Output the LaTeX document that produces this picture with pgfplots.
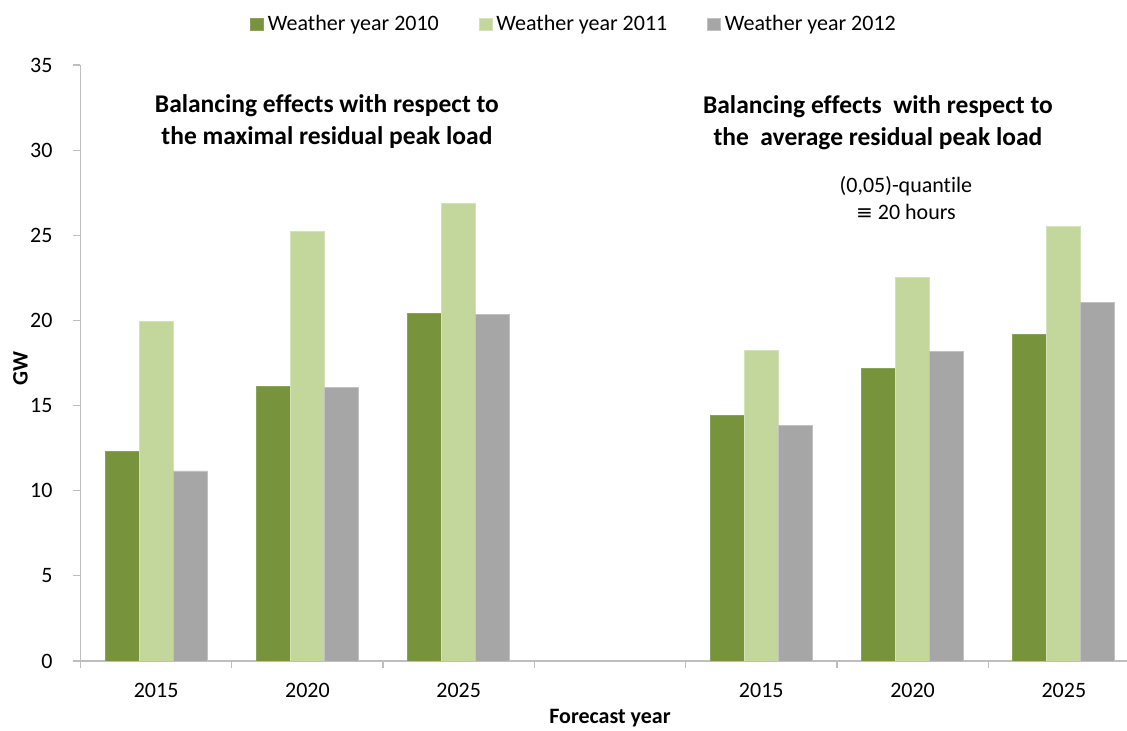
\documentclass[border=0pt]{standalone}
\usepackage{pgfplots}
\pgfplotsset{compat=1.18}
\usepackage{fontspec}
\setmainfont{Carlito}[Ligatures={TeX,NoCommon}]
\newfontfamily\symfont{DejaVu Sans}

\definecolor{darkgreen}{HTML}{77933C}
\definecolor{lightgreen}{HTML}{C3D69B}
\definecolor{midgray}{HTML}{A6A6A6}
\definecolor{axisgray}{HTML}{BEBEBE}

% Categories: 0-2 = maximal residual peak load, 3 = spacer, 4-6 = average residual peak load
\pgfplotstableread{
x   y
0   12.33
1   16.11
2   20.41
4   14.43
5   17.19
6   19.20
}\wyA
\pgfplotstableread{
x   y
0   19.93
1   25.21
2   26.87
4   18.22
5   22.51
6   25.50
}\wyB
\pgfplotstableread{
x   y
0   11.16
1   16.05
2   20.37
4   13.82
5   18.16
6   21.04
}\wyC

\begin{document}
\begin{tikzpicture}
\begin{axis}[
  name=ax,
  width=529.5pt, height=298pt, scale only axis,
  xmin=-0.5, xmax=6.5, ymin=0, ymax=35,
  enlargelimits=false,
  ybar=0pt, bar width=17pt,
  axis x line*=bottom, axis y line*=left,
  axis line style={axisgray, line width=0.6pt},
  tick style={axisgray, line width=0.6pt},
  tick align=outside,
  major tick length=3.5pt,
  xtick={-0.5,0.5,...,6.5},
  xticklabels={},
  extra x ticks={0,1,2,4,5,6},
  extra x tick labels={2015,2020,2025,2015,2020,2025},
  extra x tick style={major tick style={draw=none}},
  xticklabel style={anchor=center, yshift=-11pt},
  ytick={0,5,...,35},
  yticklabel style={anchor=east, inner sep=0pt, xshift=-10.3pt},
  /pgf/number format/assume math mode=true,
  font=\fontsize{11}{13}\selectfont,
  tick label style={font=\fontsize{11}{13}\selectfont},
  ylabel={GW},
  ylabel style={font=\bfseries\fontsize{11}{13}\selectfont, at={(axis description cs:-0.0567,0.49)}, anchor=center},
  xlabel={Forecast year},
  xlabel style={font=\bfseries\fontsize{11}{13}\selectfont, at={(axis description cs:0.5,-0.096)}, anchor=center},
  legend style={at={(axis description cs:0.467,1.068)}, anchor=center, draw=none, fill=none,
    font=\fontsize{11}{13}\selectfont, legend columns=3,
    /tikz/every even column/.append style={column sep=18pt}},
  legend image code/.code={\fill[#1] (0pt,-3.2pt) rectangle (6.35pt,3.2pt);},
]
\addplot[fill=darkgreen, draw=darkgreen!85!white, line width=0.4pt] table[x=x,y=y] {\wyA};
\addplot[fill=lightgreen, draw=lightgreen!70!white, line width=0.4pt] table[x=x,y=y] {\wyB};
\addplot[fill=midgray, draw=midgray!70!white, line width=0.4pt] table[x=x,y=y] {\wyC};
\legend{Weather year 2010, Weather year 2011, Weather year 2012}

\node[font=\bfseries\fontsize{12.75}{16}\selectfont, align=center] at (axis cs:1.129,31.7)
  {Balancing effects with respect to\\the maximal residual peak load};
\node[font=\bfseries\fontsize{12.75}{16}\selectfont, align=center] at (axis cs:4.771,31.6)
  {Balancing effects\ \ with respect to\\the\ \ average residual peak load};
\node[font=\fontsize{11}{13.5}\selectfont, align=center] at (axis cs:4.956,27.16)
  {(0,05)-quantile\\{\symfont\fontsize{10}{13.5}\selectfont ≡} 20 hours};
\end{axis}
\pgfresetboundingbox
\path ([shift={(-40.25pt,-35pt)}]ax.south west) rectangle ([shift={(523.25pt,32.5pt)}]ax.north west);
\end{tikzpicture}
\end{document}
